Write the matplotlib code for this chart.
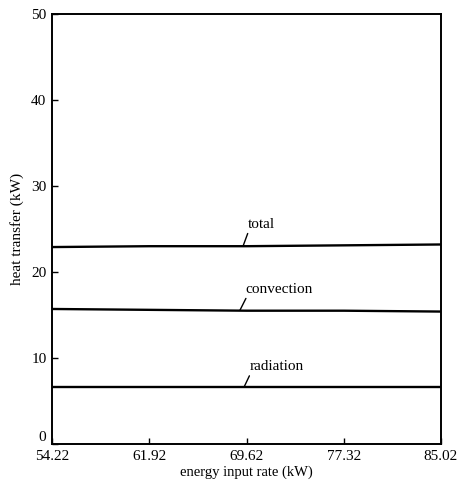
import numpy as np
import matplotlib.pyplot as plt

plt.rcParams['font.family'] = ['Liberation Serif', 'DejaVu Serif']

energy = [54.22, 61.92, 69.62, 77.32, 85.02]
total = [22.9, 23.0, 23.0, 23.1, 23.2]
convection = [15.7, 15.6, 15.5, 15.5, 15.4]
radiation = [6.6, 6.6, 6.6, 6.6, 6.6]
labels = ['total', 'convection', 'radiation']

fig = plt.figure(figsize=(4.63, 4.88), dpi=100)
ax = fig.add_axes([52/463, 1-444/488, 389/463, 430/488])

for s in [total, convection, radiation]:
    ax.plot(energy, s, color='black', lw=1.7)

# leader lines and labels: (line x, line y, text x, text y)
pts = [(69.34, 22.98, 69.75, 24.8), (69.1, 15.55, 69.55, 17.25), (69.42, 6.6, 69.85, 8.25)]
for lab, (x0, y0, x1, y1) in zip(labels, pts):
    ax.annotate(lab, xy=(x0, y0), xytext=(x1, y1), fontsize=11,
                ha='left', va='bottom',
                arrowprops=dict(arrowstyle='-', color='black', lw=1.0,
                                shrinkA=0, shrinkB=0, relpos=(0.03, 0.05)))

ax.set_xlim(54.22, 85.02)
ax.set_ylim(0, 50)
ax.set_xticks(energy)
ax.set_xticklabels(['54.22', '61.92', '69.62', '77.32', '85.02'])
ax.set_yticks([0, 10, 20, 30, 40, 50])
ax.tick_params(direction='in', length=4, width=1, labelsize=11, pad=4)
ax.get_yticklabels()[0].set_va('bottom')
for sp in ax.spines.values():
    sp.set_linewidth(1.4)
ax.set_xlabel('energy input rate (kW)', fontsize=10.5, labelpad=2)
ax.set_ylabel('heat transfer (kW)', fontsize=11, labelpad=5)

fig.savefig('out.png', dpi=100)
